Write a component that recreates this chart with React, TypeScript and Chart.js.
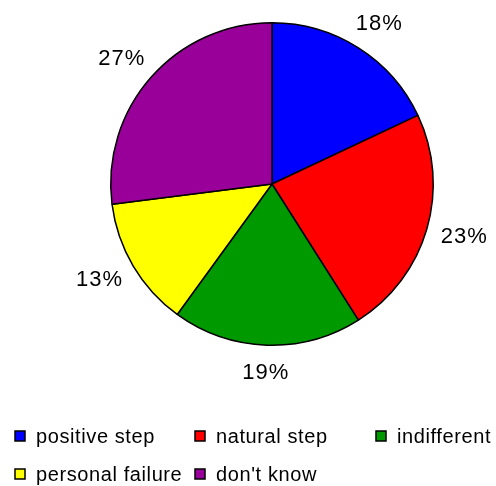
import React, { useEffect, useRef } from "react";
import { Chart, registerables } from "chart.js";

Chart.register(...registerables);

const categories = ["positive step", "natural step", "indifferent", "personal failure", "don't know"];
const values = [18, 23, 19, 13, 27];
const colors = ["#0000FF", "#FF0000", "#009900", "#FFFF00", "#990099"];

const FONT = "'Liberation Sans', Arial, sans-serif";

const labelPlugin = {
  id: "pctLabels",
  afterDatasetsDraw(chart: any) {
    const ctx = chart.ctx;
    const meta = chart.getDatasetMeta(0);
    const data = chart.data.datasets[0].data as number[];
    const total = data.reduce((a, b) => a + b, 0);
    ctx.save();
    ctx.font = `22px ${FONT}`;
    (ctx as any).letterSpacing = "1px";
    ctx.fillStyle = "#000";
    ctx.textAlign = "center";
    ctx.textBaseline = "middle";
    meta.data.forEach((arc: any, i: number) => {
      const { x, y, startAngle, endAngle, outerRadius } = arc.getProps(
        ["x", "y", "startAngle", "endAngle", "outerRadius"],
        true
      );
      const mid = (startAngle + endAngle) / 2;
      const rx = outerRadius + 39;
      const ry = outerRadius + 28;
      const lx = x + Math.cos(mid) * rx;
      const ly = y + Math.sin(mid) * ry;
      ctx.fillText(Math.round((data[i] / total) * 100) + "%", lx, ly);
    });
    ctx.restore();
  },
};

const legendPlugin = {
  id: "gridLegend",
  afterDraw(chart: any) {
    const ctx = chart.ctx;
    const colX = [15, 195, 376];
    const rowY = [436, 474];
    ctx.save();
    ctx.font = `20px ${FONT}`;
    (ctx as any).letterSpacing = "0.6px";
    ctx.textBaseline = "middle";
    ctx.textAlign = "left";
    categories.forEach((name, i) => {
      const cx = colX[i % 3];
      const cy = rowY[Math.floor(i / 3)];
      ctx.fillStyle = colors[i];
      ctx.fillRect(cx, cy - 5, 10, 10);
      ctx.strokeStyle = "#000";
      ctx.lineWidth = 1.5;
      ctx.strokeRect(cx, cy - 5, 10, 10);
      ctx.fillStyle = "#000";
      ctx.fillText(name, cx + 21, cy + 1);
    });
    ctx.restore();
  },
};

export default function App() {
  const ref = useRef<HTMLCanvasElement>(null);
  useEffect(() => {
    if (!ref.current) return;
    const chart = new Chart(ref.current, {
      type: "pie",
      data: {
        labels: categories,
        datasets: [
          {
            data: values,
            backgroundColor: colors,
            borderColor: "#000",
            borderWidth: 1.5,
          },
        ],
      },
      options: {
        animation: false,
        responsive: false,
        maintainAspectRatio: false,
        layout: { padding: { top: 22, bottom: 140, left: 110, right: 62 } },
        plugins: {
          legend: { display: false },
          tooltip: { enabled: false },
          title: { display: false },
        },
      },
      plugins: [labelPlugin, legendPlugin],
    });
    return () => chart.destroy();
  }, []);
  return (
    <div style={{ position: "fixed", left: 0, top: 0, width: 496, height: 486, background: "#fff" }}>
      <canvas ref={ref} width={496} height={486} style={{ width: 496, height: 486, display: "block" }} />
    </div>
  );
}
